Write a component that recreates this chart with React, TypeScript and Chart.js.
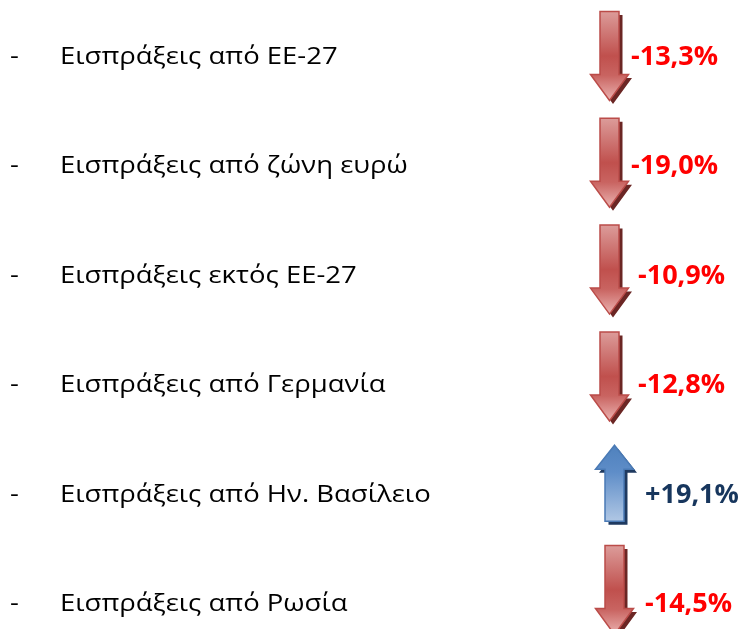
import React, { useEffect, useRef } from "react";
import { Chart, registerables } from "chart.js";

Chart.register(...registerables);

// ---- data ----
const categories = [
  "Εισπράξεις από ΕΕ-27",
  "Εισπράξεις από ζώνη ευρώ",
  "Εισπράξεις εκτός ΕΕ-27",
  "Εισπράξεις από Γερμανία",
  "Εισπράξεις από Ην. Βασίλειο",
  "Εισπράξεις από Ρωσία",
];
const changes = [-13.3, -19.0, -10.9, -12.8, 19.1, -14.5];

// ---- layout (pixels in the x scale, which spans the canvas width) ----
const W = 743;
const H = 629;
const arrowColumn = [609.5, 609.5, 609.5, 609.5, 614.5, 614.5];
const valueColumn = [631, 631, 638, 638, 645, 645];
const labelColumn = 60;
const dashColumn = 10;
const labelStretch = 1.145;

const fmt = (v: number) =>
  (v > 0 ? "+" : "-") + Math.abs(v).toFixed(1).replace(".", ",") + "%";

function arrowPath(
  ctx: CanvasRenderingContext2D,
  cx: number,
  top: number,
  len: number,
  head: number,
  sw: number,
  hw: number,
  up: boolean
) {
  ctx.beginPath();
  if (!up) {
    const hb = top + len - head;
    ctx.moveTo(cx - sw / 2, top);
    ctx.lineTo(cx + sw / 2, top);
    ctx.lineTo(cx + sw / 2, hb);
    ctx.lineTo(cx + hw / 2, hb);
    ctx.lineTo(cx, top + len);
    ctx.lineTo(cx - hw / 2, hb);
    ctx.lineTo(cx - sw / 2, hb);
  } else {
    const hb = top + head;
    ctx.moveTo(cx, top);
    ctx.lineTo(cx + hw / 2, hb);
    ctx.lineTo(cx + sw / 2, hb);
    ctx.lineTo(cx + sw / 2, top + len);
    ctx.lineTo(cx - sw / 2, top + len);
    ctx.lineTo(cx - sw / 2, hb);
    ctx.lineTo(cx - hw / 2, hb);
  }
  ctx.closePath();
}

function stretchedText(ctx: CanvasRenderingContext2D, text: string, x: number, y: number) {
  ctx.save();
  ctx.translate(x, y);
  ctx.scale(labelStretch, 1);
  ctx.fillText(text, 0, 0);
  ctx.restore();
}

const infographic = {
  id: "infographic",
  afterDatasetsDraw(chart: any) {
    const ctx: CanvasRenderingContext2D = chart.ctx;
    const meta = chart.getDatasetMeta(0);
    const yScale = chart.scales.y;
    const xScale = chart.scales.x;
    ctx.save();
    // arrows
    meta.data.forEach((el: any, i: number) => {
      const up = changes[i] > 0;
      const len = up ? 76 : 89;
      const head = up ? 24 : 26;
      const sw = 19;
      const hw = 38;
      const top = el.y - len / 2;
      const cx = el.x;
      // shadow
      arrowPath(ctx, cx + 3.5, top + 3.5, len, head, sw, hw, up);
      ctx.fillStyle = up ? "#1f3a60" : "#6b2624";
      ctx.fill();
      // body
      const g = ctx.createLinearGradient(0, top, 0, top + len);
      if (up) {
        g.addColorStop(0, "#4f81bd");
        g.addColorStop(0.35, "#5e8dc8");
        g.addColorStop(1, "#b0c7e4");
      } else {
        g.addColorStop(0, "#dc9c9a");
        g.addColorStop(0.5, "#c0504d");
        g.addColorStop(0.72, "#c96461");
        g.addColorStop(1, "#ebb3b1");
      }
      arrowPath(ctx, cx, top, len, head, sw, hw, up);
      ctx.fillStyle = g;
      ctx.fill();
      ctx.lineWidth = 1.5;
      ctx.strokeStyle = up ? "#4a7ab5" : "#bb4c49";
      ctx.stroke();
    });
    // texts
    categories.forEach((label, i) => {
      const cy = yScale.getPixelForValue(i);
      ctx.textBaseline = "alphabetic";
      ctx.textAlign = "left";
      ctx.fillStyle = "#000000";
      ctx.font = '24px "Open Sans"';
      stretchedText(ctx, "-", xScale.getPixelForValue(dashColumn), cy + 9);
      stretchedText(ctx, label, xScale.getPixelForValue(labelColumn), cy + 9);
      ctx.font = 'bold 26px "Open Sans"';
      ctx.fillStyle = changes[i] > 0 ? "#17365d" : "#ff0000";
      ctx.save();
      ctx.translate(xScale.getPixelForValue(valueColumn[i]), cy + 10);
      ctx.scale(1.04, 1);
      ctx.fillText(fmt(changes[i]), 0, 0);
      ctx.restore();
    });
    ctx.restore();
  },
};

export default function App() {
  const ref = useRef<HTMLCanvasElement | null>(null);
  useEffect(() => {
    if (!ref.current) return;
    const chart = new Chart(ref.current, {
      type: "scatter",
      data: {
        datasets: [
          {
            data: changes.map((_, i) => ({ x: arrowColumn[i], y: i })),
            pointRadius: 0,
            yAxisID: "yArrow",
          },
        ],
      },
      options: {
        animation: false,
        responsive: false,
        devicePixelRatio: 1,
        events: [],
        layout: { padding: 0 },
        plugins: { legend: { display: false }, tooltip: { enabled: false } },
        scales: {
          x: { type: "linear", min: 0, max: W, display: false },
          y: { type: "linear", reverse: true, min: -0.503, max: 5.247, display: false },
          yArrow: { type: "linear", reverse: true, min: -0.524, max: 5.365, display: false },
        },
      },
      plugins: [infographic],
    });
    return () => chart.destroy();
  }, []);
  return (
    <div style={{ position: "fixed", left: 0, top: 0, width: W, height: H, background: "#fff" }}>
      <canvas ref={ref} width={W} height={H} />
    </div>
  );
}
